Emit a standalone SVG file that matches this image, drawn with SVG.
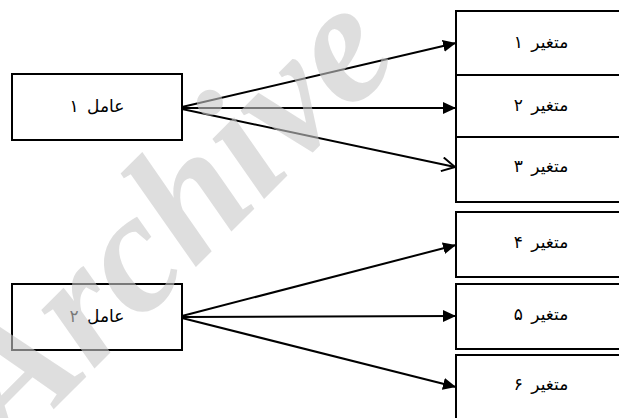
<svg xmlns="http://www.w3.org/2000/svg" width="619" height="418" viewBox="0 0 619 418">
<style>
.box{fill:#fff;stroke:#000;stroke-width:2}
.lbl{font-family:"DejaVu Sans","Noto Sans",sans-serif;font-size:17px;fill:#000;text-anchor:middle;dominant-baseline:central;word-spacing:3px}
.ln{stroke:#000;stroke-width:2;fill:none}
.wm{font-family:"Liberation Serif",serif;font-weight:bold;font-style:italic;font-size:172px;fill:#c8c8c8;fill-opacity:0.6}
</style>
<defs>
<marker id="ah" markerUnits="userSpaceOnUse" markerWidth="14" markerHeight="13" refX="13" refY="6" orient="auto"><path d="M0,0 L13,6 L0,12 z" fill="#000"/></marker>
<marker id="ao" markerUnits="userSpaceOnUse" markerWidth="16" markerHeight="16" refX="14" refY="8" orient="auto"><path d="M1,1 L14,8 L1,15" fill="none" stroke="#000" stroke-width="2"/></marker>
</defs>
<rect width="619" height="418" fill="#fff"/>
<g id="f1"><rect class="box" x="12" y="74" width="170" height="66"/><text class="lbl" x="97" y="106" direction="rtl">عامل ۱</text></g>
<g id="f2"><rect class="box" x="12" y="284" width="170" height="66"/><text class="lbl" x="97" y="316" direction="rtl">عامل ۲</text></g>
<g id="v1"><rect class="box" x="456" y="11" width="180" height="64"/><text class="lbl" x="541" y="42" direction="rtl">متغیر ۱</text></g>
<g id="v2"><rect class="box" x="456" y="75" width="180" height="62"/><text class="lbl" x="541" y="105" direction="rtl">متغیر ۲</text></g>
<g id="v3"><rect class="box" x="456" y="137" width="180" height="65"/><text class="lbl" x="541" y="166" direction="rtl">متغیر ۳</text></g>
<g id="v4"><rect class="box" x="456" y="212" width="180" height="65"/><text class="lbl" x="541" y="242" direction="rtl">متغیر ۴</text></g>
<g id="v5"><rect class="box" x="456" y="284" width="180" height="65"/><text class="lbl" x="541" y="314" direction="rtl">متغیر ۵</text></g>
<g id="v6"><rect class="box" x="456" y="355" width="180" height="70"/><text class="lbl" x="541" y="384" direction="rtl">متغیر ۶</text></g>
<g id="connectors">
<line class="ln" x1="182" y1="107" x2="456" y2="43" marker-end="url(#ah)"/>
<line class="ln" x1="182" y1="108" x2="456" y2="108" marker-end="url(#ah)"/>
<line class="ln" x1="182" y1="109" x2="455" y2="167" marker-end="url(#ao)"/>
<line class="ln" x1="182" y1="316" x2="456" y2="245" marker-end="url(#ah)"/>
<line class="ln" x1="182" y1="317" x2="456" y2="316" marker-end="url(#ah)"/>
<line class="ln" x1="182" y1="318" x2="456" y2="387" marker-end="url(#ah)"/>
</g>
<text class="wm" transform="translate(11,452) rotate(-45)">Archive</text>
</svg>
